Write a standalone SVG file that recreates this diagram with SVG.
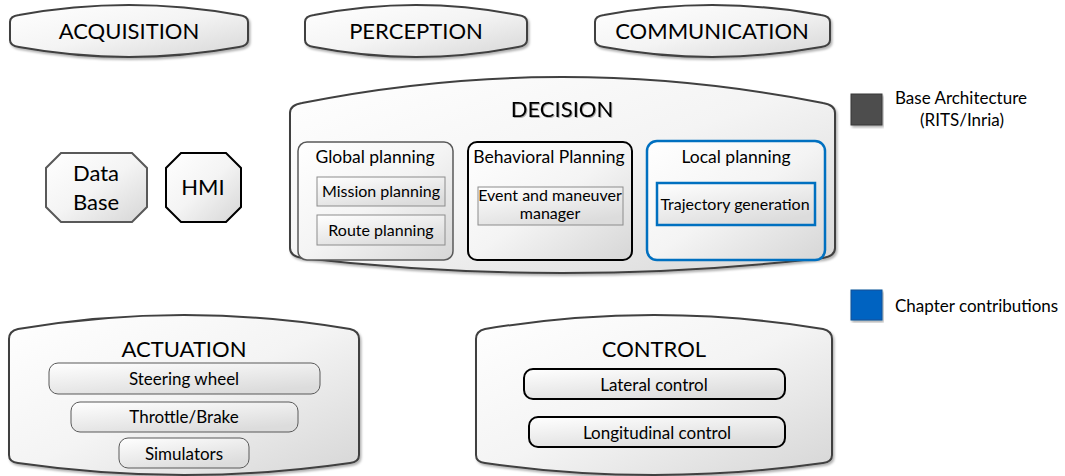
<svg xmlns="http://www.w3.org/2000/svg" width="1065" height="476" viewBox="0 0 1065 476">
<defs>
<linearGradient id="g" x1="0" y1="0" x2="1" y2="1">
<stop offset="0" stop-color="#ffffff"/>
<stop offset="0.5" stop-color="#f4f4f4"/>
<stop offset="1" stop-color="#d6d6d6"/>
</linearGradient>
<linearGradient id="gi" x1="0" y1="0" x2="0.6" y2="1">
<stop offset="0" stop-color="#ffffff"/>
<stop offset="1" stop-color="#dcdcdc"/>
</linearGradient>
<filter id="sh" x="-5%" y="-5%" width="110%" height="115%">
<feDropShadow dx="1.5" dy="2" stdDeviation="1.2" flood-color="#000" flood-opacity="0.3"/>
</filter>
<filter id="ts" x="-5%" y="-20%" width="110%" height="140%">
<feDropShadow dx="1" dy="1" stdDeviation="0.6" flood-color="#000" flood-opacity="0.3"/>
</filter>
</defs>
<style>
text{font-family:Lato,"Liberation Sans",sans-serif;fill:#000;text-anchor:middle}
.big{font-size:22px}
.mid{font-size:17.5px}
.sm{font-size:16px}
.lg{font-size:17px}
.barrel{fill:url(#g);stroke:#404040;stroke-width:2;filter:url(#sh)}
.grp{fill:url(#g);stroke:#595959;stroke-width:1.5}
.grpb{fill:url(#g);stroke:#000;stroke-width:2}
.grpc{fill:url(#g);stroke:#0070c0;stroke-width:2.5}
.item{fill:url(#gi);stroke:#8c8c8c;stroke-width:1}
.itemc{fill:url(#gi);stroke:#0070c0;stroke-width:2.5}
.pill{fill:url(#gi);stroke:#595959;stroke-width:1}
.pillb{fill:url(#gi);stroke:#000;stroke-width:2}
</style>

<g id="acquisition">
<path class="barrel" d="M10,22 Q10,16 19,15 Q129,-5 239,15 Q248,16 248,22 L248,40 Q248,46 239,47 Q129,67 19,47 Q10,46 10,40 Z"/>
<text class="big" x="129" y="39">ACQUISITION</text>
</g>
<g id="perception">
<path class="barrel" d="M305,22 Q305,16 314,15 Q416,-5 518,15 Q527,16 527,22 L527,40 Q527,46 518,47 Q416,67 314,47 Q305,46 305,40 Z"/>
<text class="big" x="416" y="39">PERCEPTION</text>
</g>
<g id="communication">
<path class="barrel" d="M595,22 Q595,16 604,15 Q712,-5 821,15 Q830,16 830,22 L830,40 Q830,46 821,47 Q712,67 604,47 Q595,46 595,40 Z"/>
<text class="big" x="712" y="39">COMMUNICATION</text>
</g>

<g id="decision">
<path class="barrel" d="M290,113 Q290,105 302,103 Q562,51 823,103 Q835,105 835,113 L835,248 Q835,256 823,258 Q562,288 302,258 Q290,256 290,248 Z"/>
<text class="big" x="562" y="117" filter="url(#ts)">DECISION</text>
<g id="global-planning">
<rect class="grp" x="298" y="142" width="155" height="118" rx="9"/>
<text class="mid" x="375" y="163">Global planning</text>
<g id="mission-planning">
<rect class="item" x="317" y="177" width="128" height="29"/>
<text class="sm" x="381" y="197">Mission planning</text>
</g>
<g id="route-planning">
<rect class="item" x="317" y="215" width="128" height="30"/>
<text class="sm" x="381" y="236">Route planning</text>
</g>
</g>
<g id="behavioral-planning">
<rect class="grpb" x="468" y="142" width="164" height="118" rx="9"/>
<text class="mid" x="549" y="163">Behavioral Planning</text>
<g id="event-manager">
<rect class="item" x="478" y="187" width="145" height="38"/>
<text class="sm" x="550" y="201">Event and maneuver</text>
<text class="sm" x="550" y="219">manager</text>
</g>
</g>
<g id="local-planning">
<rect class="grpc" x="647" y="141" width="178" height="119" rx="10"/>
<text class="mid" x="736" y="163">Local planning</text>
<g id="trajectory-generation">
<rect class="itemc" x="657" y="183" width="158" height="42"/>
<text class="sm" x="735" y="210">Trajectory generation</text>
</g>
</g>
</g>

<g id="database">
<polygon points="61,153 132,153 147,168 147,207 132,222 61,222 46,207 46,168" fill="url(#g)" stroke="#595959" stroke-width="2"/>
<text class="big" x="96" y="181">Data</text>
<text class="big" x="96" y="210">Base</text>
</g>
<g id="hmi">
<polygon points="181,153 226,153 241,168 241,207 226,222 181,222 166,207 166,168" fill="url(#g)" stroke="#000" stroke-width="2"/>
<text class="big" x="203" y="195">HMI</text>
</g>

<g id="legend-base">
<rect x="851" y="94" width="31" height="31" fill="#4d4d4d" stroke="#3a3a3a" stroke-width="1" filter="url(#sh)"/>
<text class="lg" x="961" y="104">Base Architecture</text>
<text class="lg" x="962" y="126">(RITS/Inria)</text>
</g>
<g id="legend-chapter">
<rect x="851" y="290" width="31" height="30" fill="#0563c1" stroke="#0b4f94" stroke-width="1" filter="url(#sh)"/>
<text class="lg" x="895" y="312" style="text-anchor:start">Chapter contributions</text>
</g>

<g id="actuation">
<path class="barrel" d="M9,339 Q9,331 18,329 Q184,301 350,329 Q359,331 359,339 L359,455 Q359,462 350,463 Q184,487 18,463 Q9,462 9,455 Z"/>
<text class="big" x="184" y="357">ACTUATION</text>
<g id="steering-wheel">
<rect class="pill" x="49" y="363" width="271" height="31" rx="9"/>
<text class="lg" x="184" y="385">Steering wheel</text>
</g>
<g id="throttle-brake">
<rect class="pill" x="71" y="402" width="227" height="30" rx="9"/>
<text class="lg" x="184" y="423">Throttle/Brake</text>
</g>
<g id="simulators">
<rect class="pill" x="119" y="438" width="130" height="30" rx="9"/>
<text class="lg" x="184" y="460">Simulators</text>
</g>
</g>

<g id="control">
<path class="barrel" d="M476,339 Q476,331 485,329 Q654,301 823,329 Q832,331 832,339 L832,455 Q832,462 823,463 Q654,487 485,463 Q476,462 476,455 Z"/>
<text class="big" x="654" y="357">CONTROL</text>
<g id="lateral-control">
<rect class="pillb" x="524" y="369" width="261" height="30" rx="9"/>
<text class="lg" x="654" y="391">Lateral control</text>
</g>
<g id="longitudinal-control">
<rect class="pillb" x="529" y="417" width="256" height="30" rx="9"/>
<text class="lg" x="657" y="439">Longitudinal control</text>
</g>
</g>

<g id="connectors"></g>
</svg>
